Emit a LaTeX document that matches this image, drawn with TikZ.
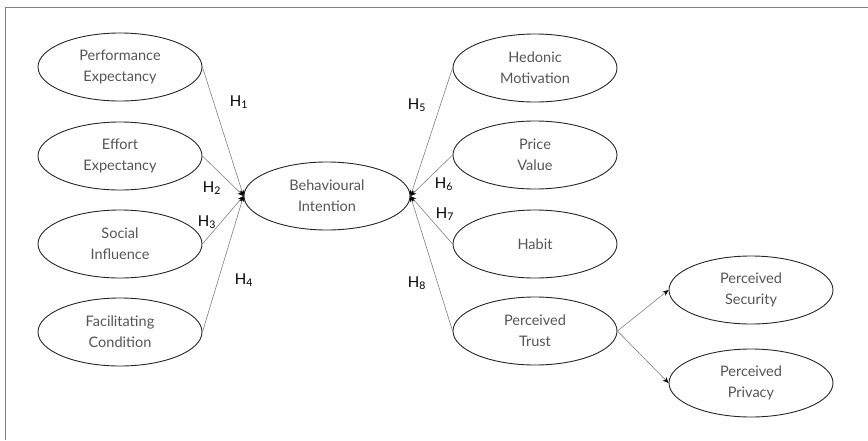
\documentclass[tikz,border=0pt]{standalone}
\usepackage{fontspec}
\setmainfont{Lato}
\usetikzlibrary{shapes.geometric,arrows.meta}
\definecolor{txtgray}{HTML}{555555}
\definecolor{linegray}{HTML}{808080}
\tikzset{
  construct/.style={ellipse, draw=black!85, line width=0.9pt, minimum width=164pt, minimum height=68pt, inner sep=0pt, align=center, font=\fontsize{14.5}{21}\selectfont, text=txtgray},
  arr/.style={draw=linegray, line width=0.6pt, -{Stealth[length=6pt,width=5pt,black]}},
  hlab/.style={font=\fontsize{15}{18}\selectfont, text=black, inner sep=0pt}
}
\begin{document}
\begin{tikzpicture}[x=1pt,y=-1pt]
\useasboundingbox (0,0) rectangle (868,440);
\draw[linegray, line width=1.3pt] (5.5,440) -- (5.5,7.5) -- (868,7.5);
% left column
\node[construct] (pe) at (120,67) {Performance\\Expectancy};
\node[construct] (ee) at (120,156) {Effort\\Expectancy};
\node[construct] (si) at (120,244) {Social\\Influence};
\node[construct] (fc) at (120,332) {Facilitating\\Condition};
% centre
\node[construct, minimum width=166pt] (bi) at (327,196) {Behavioural\\Intention};
% right column
\node[construct] (hm) at (535,68) {Hedonic\\Motivation};
\node[construct] (pv) at (535,155) {Price\\Value};
\node[construct] (hb) at (535,244) {Habit};
\node[construct] (pt) at (535,331) {Perceived\\Trust};
\node[construct] (ps) at (751,290) {Perceived\\Security};
\node[construct] (pp) at (751,383) {Perceived\\Privacy};
% connectors
\draw[arr] (pe.east) -- (bi.west);
\draw[arr] (ee.east) -- (bi.west);
\draw[arr] (si.east) -- (bi.west);
\draw[arr] (fc.east) -- (bi.west);
\draw[arr] (hm.west) -- (bi.east);
\draw[arr] (pv.west) -- (bi.east);
\draw[arr] (hb.west) -- (bi.east);
\draw[arr] (pt.west) -- (bi.east);
\draw[arr] (pt.east) -- (ps.west);
\draw[arr] (pt.east) -- (pp.west);
% labels
\node[hlab] (h1) at (239,102) {H\textsubscript{1}};
\node[hlab] (h2) at (212,188) {H\textsubscript{2}};
\node[hlab] (h3) at (207,222) {H\textsubscript{3}};
\node[hlab] (h4) at (244,280) {H\textsubscript{4}};
\node[hlab] (h5) at (417,105) {H\textsubscript{5}};
\node[hlab] (h6) at (444,184) {H\textsubscript{6}};
\node[hlab] (h7) at (445,214) {H\textsubscript{7}};
\node[hlab] (h8) at (417,283) {H\textsubscript{8}};
\end{tikzpicture}
\end{document}
